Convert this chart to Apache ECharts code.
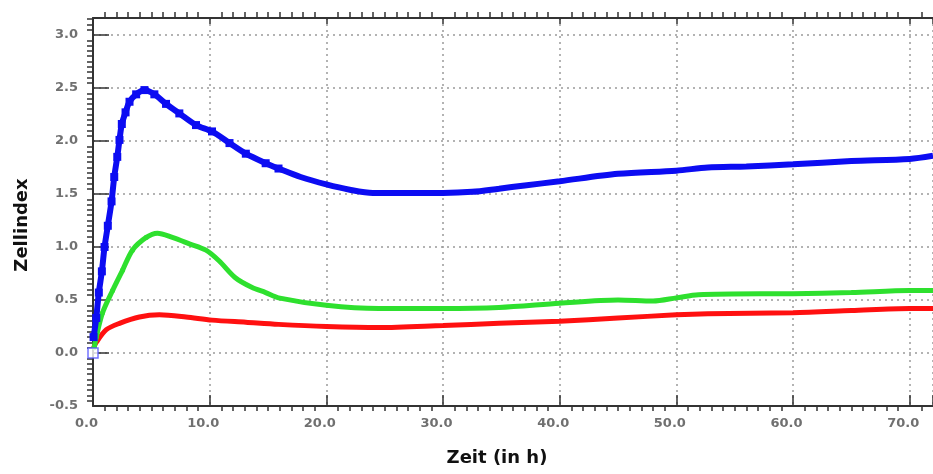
<!DOCTYPE html>
<html>
<head>
<meta charset="utf-8">
<script src="https://cdn.jsdelivr.net/npm/echarts@6/dist/echarts.min.js"></script>
<style>
  html, body { margin: 0; padding: 0; background: #fff; }
  #chart { width: 933px; height: 474px; }
</style>
</head>
<body>
<div id="chart"></div>
<script>
// Zeit (h) / Zellindex
const originPoint = [0.0, 0.0]
const blueData = [
  [0.05, 0.15], [0.28, 0.33], [0.5, 0.57], [0.76, 0.77], [0.99, 1.0], [1.27, 1.2],
  [1.59, 1.43], [1.82, 1.66], [2.08, 1.85], [2.27, 2.01], [2.47, 2.16], [2.79, 2.27],
  [3.13, 2.37], [3.7, 2.44], [4.41, 2.48], [5.26, 2.44], [6.26, 2.35], [7.4, 2.26],
  [8.83, 2.15], [10.2, 2.09], [11.7, 1.98], [13.1, 1.88], [14.8, 1.79], [15.9, 1.74],
  [17.8, 1.66], [20, 1.59], [22, 1.54], [24, 1.51], [27, 1.51], [30, 1.51],
  [32.5, 1.52], [34.8, 1.55], [37, 1.58], [40, 1.62], [45, 1.69], [50, 1.72],
  [52.7, 1.75], [56, 1.76], [60, 1.78], [65, 1.81], [70, 1.83], [72, 1.86]
]
const greenData = [
  [0.1, 0.05], [0.28, 0.15], [0.82, 0.38], [1.68, 0.59], [2.53, 0.78], [3.38, 0.97],
  [4.56, 1.09], [5.52, 1.13], [6.8, 1.09], [8.26, 1.03], [9.68, 0.97], [10.8, 0.87],
  [12.2, 0.71], [13.6, 0.62], [14.8, 0.57], [15.9, 0.52], [20, 0.45], [24.5, 0.42],
  [30, 0.42], [34.8, 0.43], [40, 0.47], [45, 0.5], [48, 0.49], [50, 0.52],
  [51.9, 0.55], [60, 0.56], [65, 0.57], [70, 0.59], [72, 0.59]
]
const redData = [
  [0.05, 0.05], [0.28, 0.1], [1.14, 0.22], [2.27, 0.28], [3.98, 0.34], [5.69, 0.36],
  [7.97, 0.34], [10.2, 0.31], [13.1, 0.29], [15.9, 0.27], [20, 0.25], [24.5, 0.24],
  [30, 0.26], [34.8, 0.28], [40, 0.3], [45, 0.33], [50, 0.36], [52.7, 0.37],
  [60, 0.38], [65, 0.4], [70, 0.42], [72, 0.42]
]

const chart = echarts.init(document.getElementById('chart'))

const labelStyle = {
  color: '#707070',
  fontSize: 13,
  fontWeight: 'bold',
  fontFamily: 'DejaVu Sans'
}
const dotted = { color: '#9a9a9a', width: 1.5, type: [2, 4] }

chart.setOption({
  animation: false,
  grid: { left: 93, right: -2, top: 18, bottom: 68, containLabel: false },
  xAxis: [{
    type: 'value',
    min: 0,
    max: 72,
    interval: 10,
    name: 'Zeit (in h)',
    nameLocation: 'middle',
    nameGap: 43,
    nameTextStyle: {
      color: '#111', fontSize: 18, fontWeight: 'bold', fontFamily: 'DejaVu Sans',
      padding: [0, 32, 0, 0]
    },
    axisLine: { show: true, onZero: false, lineStyle: { color: '#333', width: 2 } },
    axisTick: { show: true, inside: true, length: 11, lineStyle: { color: '#333', width: 1.5 } },
    minorTick: { show: true, splitNumber: 10, length: -5, lineStyle: { color: '#333', width: 1.5 } },
    axisLabel: Object.assign({
      margin: 11,
      padding: [0, 13, 0, 0],
      showMaxLabel: false,
      formatter: v => v.toFixed(1)
    }, labelStyle),
    splitLine: { show: true, lineStyle: dotted }
  }, {
    type: 'value',
    position: 'top',
    min: 0,
    max: 72,
    interval: 10,
    axisLine: { show: true, onZero: false, lineStyle: { color: '#333', width: 2 } },
    axisTick: { show: true, inside: true, length: 6, lineStyle: { color: '#333', width: 1.5 } },
    minorTick: { show: true, splitNumber: 10, length: -6, lineStyle: { color: '#333', width: 1.5 } },
    axisLabel: { show: false },
    splitLine: { show: false }
  }],
  yAxis: {
    type: 'value',
    min: -0.5,
    max: 3.16,
    interval: 0.5,
    name: 'Zellindex',
    nameLocation: 'middle',
    nameGap: 62,
    nameTextStyle: {
      color: '#111', fontSize: 18, fontWeight: 'bold', fontFamily: 'DejaVu Sans',
      padding: [0, 26, 0, 0]
    },
    axisLine: { show: true, onZero: false, lineStyle: { color: '#333', width: 2 } },
    axisTick: { show: true, inside: true, length: 16, lineStyle: { color: '#333', width: 1.5 } },
    minorTick: { show: true, splitNumber: 10, length: -6, lineStyle: { color: '#333', width: 1.5 } },
    axisLabel: Object.assign({
      margin: 15,
      showMaxLabel: false,
      formatter: v => v.toFixed(1)
    }, labelStyle),
    splitLine: { show: true, lineStyle: dotted }
  },
  series: [{
    name: 'rot',
    type: 'line',
    data: redData,
    smooth: 0.3,
    showSymbol: false,
    lineStyle: { color: '#ff1010', width: 5 },
    itemStyle: { color: '#ff1010' },
    z: 3
  }, {
    name: 'grün',
    type: 'line',
    data: greenData,
    smooth: 0.3,
    symbol: 'circle',
    symbolSize: v => (v[0] < 5 ? 5 : 0),
    lineStyle: { color: '#2ee02e', width: 5 },
    itemStyle: { color: '#2ee02e' },
    z: 4
  }, {
    name: 'blau',
    type: 'line',
    data: blueData,
    smooth: 0.3,
    symbol: 'rect',
    symbolSize: v => (v[0] < 16 ? 8 : 0),
    lineStyle: { color: '#0c0cf2', width: 6 },
    itemStyle: { color: '#0c0cf2' },
    z: 5
  }, {
    name: 'start',
    type: 'scatter',
    data: [originPoint],
    symbol: 'rect',
    symbolSize: 10,
    itemStyle: { color: '#fff', borderColor: '#5050ff', borderWidth: 1.5 },
    z: 6
  }]
})
</script>
</body>
</html>
